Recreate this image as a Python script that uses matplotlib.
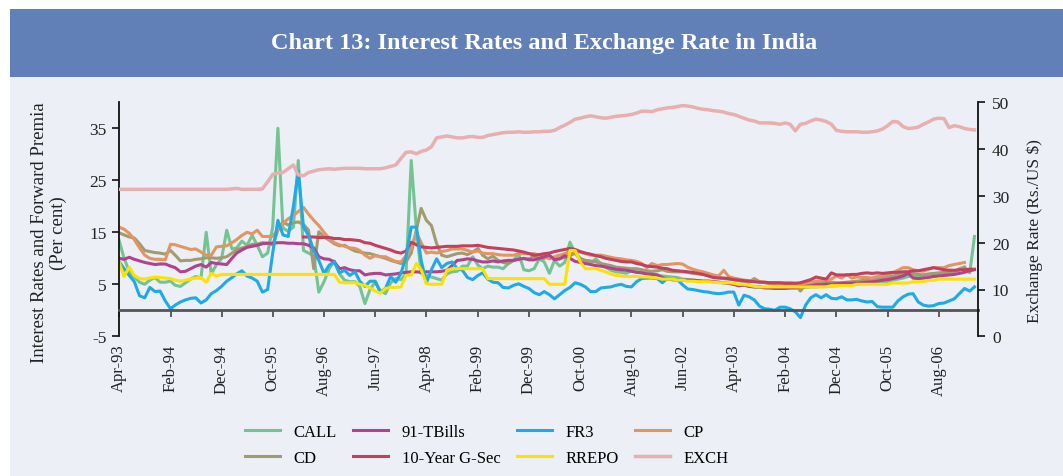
import numpy as np
import pandas as pd
import matplotlib
matplotlib.use("Agg")
import matplotlib.pyplot as plt
import matplotlib.dates as mdates
from matplotlib.patches import Rectangle

nan = np.nan
months = pd.date_range("1993-04-01", periods=168, freq="MS")

call = [13.5, 10.0, 7.5, 6.4, 5.4, 5.0, 5.8, 6.3, 5.4, 5.4, 5.6, 4.8,
        4.6, 5.3, 6.0, 6.5, 6.2, 15.0, 7.0, 8.8, 9.9, 15.4, 11.8, 12.0,
        13.3, 12.5, 14.4, 12.5, 10.3, 11.0, 16.0, 35.0, 15.8, 15.2, 16.0, 28.8,
        11.5, 11.0, 10.5, 3.5, 5.5, 8.0, 9.5, 7.0, 5.8, 5.5, 5.5, 4.6,
        1.3, 4.0, 5.4, 3.8, 3.2, 5.3, 6.1, 5.9, 7.0, 28.8, 15.4, 7.1,
        6.7, 6.4, 6.1, 5.8, 7.0, 7.4, 7.5, 8.5, 8.5, 10.3, 8.7, 8.0,
        8.5, 8.3, 8.3, 8.0, 9.0, 9.6, 10.9, 7.8, 7.6, 8.0, 9.9, 9.3,
        7.1, 9.6, 8.5, 9.2, 13.1, 11.0, 9.6, 9.0, 9.0, 9.9, 9.0, 8.3,
        7.7, 7.4, 7.3, 7.1, 7.6, 7.4, 7.3, 7.2, 7.1, 6.8, 6.6, 6.5,
        6.4, 6.3, 6.0, 5.9, 5.8, 5.7, 5.6, 5.6, 5.5, 5.4, 5.3, 5.2,
        5.0, 4.9, 4.8, 4.6, 4.5, 4.4, 4.4, 4.3, 4.3, 4.4, 4.4, 4.3,
        4.2, 4.3, 4.4, 4.5, 4.5, 4.6, 4.6, 4.7, 4.7, 4.8, 4.9, 5.0,
        5.0, 5.1, 5.2, 5.3, 5.4, 5.5, 5.5, 5.8, 6.0, 6.2, 6.5, 6.6,
        6.6, 6.7, 6.8, 6.8, 6.9, 7.0, 7.1, 7.4, 8.0, 8.3, 7.2, 14.2]

cd = [14.9, 14.5, 14.1, 13.9, 12.8, 11.5, 11.3, 11.1, 11.0, 10.8, 11.5, 10.6,
      9.5, 9.6, 9.6, 9.8, 9.9, 10.1, 10.1, 10.0, 10.1, 10.3, 11.0, 11.6,
      12.0, 12.2, 12.7, 12.7, 13.0, 12.9, 12.6, 15.4, 17.0, 16.4, 16.8, 17.0,
      16.5, 15.4, 8.0, 15.1, 14.1, 13.5, 12.8, 12.4, 12.5, 11.9, 11.4, 11.2,
      11.0, 10.9, 10.6, 10.3, 10.0, 9.6, 9.3, 9.0, 9.3, 11.0, 15.5, 19.6,
      17.3, 16.3, 12.8, 10.6, 10.3, 10.6, 10.9, 11.0, 10.7, 11.2, 11.9, 10.6,
      9.9, 10.4, 9.6, 9.2, 9.0, 9.6, 9.9, 9.9, 9.9, 10.4, 9.9, 10.0,
      10.4, 10.0, 9.9, 10.2, 10.5, 11.0, 10.0, 9.6, 9.5, 9.3, 9.0, 8.8,
      8.6, 8.3, 8.2, 8.1, 8.0, 8.0, 7.8, 7.6, 7.5, 7.6, 7.8, 7.5,
      7.4, 7.4, 7.4, 7.3, 7.1, 7.0, 6.9, 6.7, 6.5, 6.3, 6.1, 6.0,
      5.9, 5.7, 5.5, 5.4, 6.1, 5.5, 5.3, 5.1, 5.0, 5.0, 5.0, 5.0,
      5.0, 3.7, 5.0, 5.2, 5.3, 5.4, 5.4, 5.4, 5.3, 5.3, 5.4, 5.5,
      5.6, 5.7, 5.9, 6.0, 6.1, 6.3, 6.4, 6.6, 6.8, 7.0, 7.1, 7.1,
      6.9, 6.8, 7.0, 7.1, 7.2, 7.3, 7.3, 7.5, 7.7, 8.3, nan, nan]

tbills = [10.0, 9.8, 10.2, 9.8, 9.5, 9.2, 9.0, 8.8, 8.9, 8.9, 8.5, 8.2,
          7.4, 7.5, 8.0, 8.5, 8.8, 8.3, 9.2, 9.0, 8.9, 8.8, 10.0, 11.0,
          11.6, 12.1, 12.3, 12.5, 12.8, 12.9, 12.9, 13.0, 13.0, 12.9, 12.9, 12.8,
          12.8, 12.5, 12.0, 10.3, 9.9, 9.8, 9.3, 8.0, 8.2, 7.8, 7.6, 7.6,
          6.8, 7.0, 7.1, 7.1, 6.8, 6.9, 7.0, 7.2, 7.3, 7.4, 7.4, 7.3,
          7.4, 7.4, 7.4, 7.5, 7.7, 8.6, 9.6, 9.7, 9.9, 9.8, 9.5, 9.3,
          9.3, 9.5, 9.3, 9.5, 9.6, 9.6, 9.8, 10.0, 9.7, 9.7, 10.0, 10.3,
          10.6, 9.7, 9.9, 10.5, 10.0, 9.4, 9.2, 9.0, 8.8, 8.6, 8.5, 8.3,
          8.1, 7.9, 7.8, 7.7, 7.5, 7.3, 7.2, 7.0, 6.9, 6.8, 6.3, 6.0,
          5.9, 5.8, 5.8, 5.8, 5.8, 5.7, 5.6, 5.6, 5.5, 5.4, 5.3, 5.2,
          5.0, 4.7, 4.9, 4.6, 4.5, 4.5, 4.3, 4.3, 4.2, 4.2, 4.2, 4.3,
          4.4, 4.5, 4.6, 4.7, 4.9, 4.9, 5.0, 5.0, 5.1, 5.2, 5.2, 5.2,
          5.2, 5.3, 5.4, 5.5, 5.6, 5.8, 5.9, 6.1, 6.3, 6.6, 7.1, 6.2,
          6.1, 6.2, 6.3, 6.5, 6.6, 6.7, 6.8, 6.9, 7.1, 7.3, 7.6, 7.8]

gsec10 = [nan] * 36 + [
          14.1, 14.1, 14.1, 14.0, 14.0, 14.0, 13.8, 13.8, 13.6, 13.6, 13.5, 13.4,
          13.0, 12.9, 12.5, 12.2, 11.9, 11.6, 11.2, 11.0, 11.4, 13.1, 12.6, 12.2,
          12.1, 12.0, 12.1, 12.2, 12.3, 12.3, 12.3, 12.4, 12.4, 12.4, 12.5, 12.3,
          12.1, 12.0, 11.9, 11.8, 11.7, 11.6, 11.4, 11.2, 10.9, 10.6, 10.7, 10.9,
          11.0, 11.3, 11.5, 11.7, 11.9, 11.7, 11.3, 11.0, 10.8, 10.5, 10.3, 10.0,
          9.8, 9.6, 9.4, 9.3, 9.3, 9.0, 8.8, 8.5, 8.4, 8.3, 8.1, 8.0,
          7.7, 7.6, 7.5, 7.4, 7.3, 7.1, 6.9, 6.6, 6.3, 6.2, 6.2, 6.1,
          5.9, 5.8, 5.7, 5.6, 5.5, 5.4, 5.4, 5.3, 5.3, 5.3, 5.2, 5.2,
          5.2, 5.3, 5.6, 5.9, 6.4, 6.2, 6.0, 7.2, 6.8, 6.8, 6.8, 6.9,
          6.9, 7.1, 7.2, 7.1, 7.2, 7.1, 7.2, 7.3, 7.3, 7.4, 7.4, 7.6,
          7.6, 7.8, 8.0, 8.2, 8.0, 7.8, 7.7, 7.7, 7.8, 7.8, 7.9, 7.9]

fr3 = [9.4, 8.0, 6.7, 5.5, 2.8, 2.4, 4.4, 3.6, 3.7, 1.8, 0.3, 1.0,
       1.6, 2.0, 2.3, 2.4, 1.4, 2.0, 3.2, 3.8, 4.6, 5.6, 6.3, 7.0,
       7.6, 6.6, 6.2, 5.6, 3.5, 4.0, 11.0, 17.3, 14.5, 14.2, 20.0, 26.8,
       16.0, 14.4, 11.5, 9.6, 7.1, 8.7, 9.3, 7.2, 7.7, 6.7, 7.4, 5.6,
       4.6, 5.6, 5.6, 3.5, 4.2, 6.5, 5.4, 7.1, 10.3, 16.0, 16.0, 9.6,
       5.3, 7.8, 9.9, 8.2, 9.0, 9.3, 8.0, 7.7, 6.3, 5.9, 6.7, 7.2,
       6.0, 5.4, 5.3, 4.4, 4.3, 4.8, 5.1, 4.6, 4.2, 3.4, 3.0, 3.6,
       3.0, 2.2, 3.0, 3.8, 4.4, 5.3, 5.0, 4.5, 3.6, 3.6, 4.3, 4.4,
       4.5, 4.8, 5.0, 4.6, 4.5, 5.5, 6.1, 6.2, 6.2, 6.1, 5.3, 6.1,
       5.9, 5.9, 4.9, 4.1, 4.0, 3.8, 3.6, 3.5, 3.3, 3.2, 3.3, 3.5,
       3.5, 1.0, 2.9, 2.6, 2.0, 0.8, 0.3, 0.2, 0.0, 0.6, 0.6, 0.3,
       -0.3, -1.4, 1.0, 2.4, 3.0, 2.4, 3.0, 2.3, 2.2, 2.6, 2.0, 2.0,
       2.1, 1.8, 1.6, 1.7, 0.7, 0.6, 0.6, 0.6, 1.8, 2.6, 3.1, 3.2,
       1.6, 1.0, 0.8, 0.9, 1.3, 1.4, 1.8, 2.2, 3.2, 4.2, 3.7, 4.5]

rrepo = [9.3, 6.5, 8.3, 6.7, 6.1, 6.0, 6.2, 6.4, 6.3, 6.2, 6.1, 5.8,
         5.6, 5.8, 6.0, 6.2, 6.3, 5.4, 7.1, 6.6, 6.9, 6.9, 6.9, 6.9,
         6.9, 6.9, 6.9, 6.9, 6.9, 6.9, 6.9, 6.9, 6.9, 6.9, 6.9, 6.9,
         6.9, 6.9, 6.9, 6.9, 6.9, 6.9, 6.9, 5.4, 5.3, 5.3, 5.3, 5.0,
         4.8, 4.3, 3.7, 3.3, 4.2, 4.4, 4.4, 4.5, 6.7, 6.8, 9.0, 7.8,
         5.1, 5.0, 5.0, 5.0, 7.7, 8.0, 8.0, 8.0, 8.0, 8.0, 8.0, 8.0,
         6.1, 6.1, 6.1, 6.1, 6.1, 6.1, 6.1, 6.1, 6.1, 6.1, 6.1, 6.1,
         5.0, 5.0, 5.0, 5.0, 11.5, 11.5, 9.3, 8.0, 8.0, 8.0, 7.7, 7.4,
         7.0, 6.7, 6.6, 6.5, 6.5, 6.5, 6.4, 6.4, 6.3, 6.2, 6.0, 6.0,
         6.0, 5.8, 5.8, 5.6, 5.6, 5.5, 5.5, 5.5, 5.4, 5.3, 5.3, 5.3,
         5.2, 5.0, 5.0, 4.8, 4.6, 4.5, 4.5, 4.5, 4.5, 4.5, 4.5, 4.5,
         4.5, 4.5, 4.5, 4.5, 4.5, 4.5, 4.5, 4.75, 4.75, 4.75, 4.75, 4.75,
         5.0, 5.0, 5.0, 5.0, 5.0, 5.0, 5.0, 5.25, 5.25, 5.25, 5.25, 5.5,
         5.5, 5.5, 5.75, 5.75, 6.0, 6.0, 6.0, 6.0, 6.0, 6.0, 6.0, 6.0]

cp = [16.0, 15.6, 14.8, 13.6, 12.0, 10.6, 10.0, 9.8, 9.8, 9.7, 12.7, 12.6,
      12.3, 12.0, 11.7, 11.8, 11.2, 10.6, 10.6, 12.2, 12.3, 12.4, 13.0, 13.6,
      14.4, 15.0, 14.7, 15.4, 14.2, 14.2, 14.2, 15.5, 16.7, 17.6, 18.2, 19.0,
      19.8, 18.5, 17.3, 16.3, 15.0, 13.8, 13.0, 12.6, 12.3, 12.0, 11.9, 11.5,
      10.6, 10.0, 10.5, 10.3, 10.3, 9.8, 9.4, 9.3, 10.5, 12.0, 15.0, 13.0,
      11.0, 11.2, 11.0, 11.3, 11.5, 11.8, 11.8, 11.8, 11.5, 11.2, 11.4, 11.0,
      10.9, 10.9, 10.7, 10.6, 10.6, 10.6, 10.9, 10.9, 10.9, 10.9, 10.6, 10.3,
      9.9, 10.3, 10.6, 10.9, 11.1, 11.3, 11.2, 10.9, 10.6, 10.6, 10.6, 10.4,
      10.2, 10.0, 9.9, 9.7, 9.6, 9.4, 9.0, 8.2, 9.0, 8.6, 8.8, 8.8,
      8.9, 9.0, 8.9, 8.3, 7.9, 7.6, 7.4, 7.1, 6.8, 6.6, 7.7, 6.5,
      6.2, 6.0, 5.8, 5.7, 5.6, 5.5, 5.4, 5.3, 5.3, 5.2, 5.3, 5.3,
      5.2, 4.9, 5.2, 5.4, 5.6, 5.7, 5.9, 6.0, 6.6, 6.2, 6.9, 6.2,
      6.4, 6.3, 6.3, 6.2, 6.5, 6.6, 6.9, 7.2, 7.7, 8.2, 8.2, 7.8,
      7.6, 7.5, 7.9, 8.2, 8.2, 8.2, 8.6, 8.8, 9.0, 9.2, nan, nan]

exch = [31.4, 31.4, 31.4, 31.4, 31.4, 31.4, 31.4, 31.4, 31.4, 31.4, 31.4, 31.4,
        31.4, 31.4, 31.4, 31.4, 31.4, 31.4, 31.4, 31.4, 31.4, 31.4, 31.5, 31.6,
        31.4, 31.4, 31.4, 31.4, 31.5, 33.0, 34.6, 34.9, 35.0, 35.8, 36.6, 34.5,
        34.3, 35.0, 35.3, 35.6, 35.7, 35.8, 35.7, 35.8, 35.9, 35.9, 35.9, 35.9,
        35.8, 35.8, 35.8, 35.8, 36.0, 36.3, 36.6, 38.0, 39.3, 39.4, 39.0, 39.5,
        39.8, 40.5, 42.4, 42.6, 42.8, 42.6, 42.4, 42.4, 42.6, 42.7, 42.5, 42.5,
        42.9, 43.1, 43.3, 43.5, 43.6, 43.6, 43.7, 43.6, 43.6, 43.7, 43.7, 43.8,
        43.8, 44.0, 44.6, 45.1, 45.7, 46.4, 46.6, 46.9, 47.1, 46.9, 46.7, 46.6,
        46.8, 47.0, 47.1, 47.2, 47.4, 47.7, 48.1, 48.1, 48.0, 48.4, 48.6, 48.8,
        48.9, 49.1, 49.3, 49.2, 49.0, 48.7, 48.5, 48.4, 48.2, 48.1, 47.9, 47.6,
        47.4, 47.0, 46.6, 46.2, 46.0, 45.6, 45.6, 45.6, 45.5, 45.3, 45.6, 45.3,
        43.9, 45.3, 45.5, 46.0, 46.4, 46.2, 45.9, 45.3, 44.0, 43.8, 43.7, 43.7,
        43.7, 43.6, 43.6, 43.7, 43.9, 44.3, 45.0, 45.9, 45.8, 44.8, 44.4, 44.5,
        44.7, 45.3, 45.8, 46.4, 46.6, 46.5, 44.6, 45.0, 44.8, 44.4, 44.2, 44.1]

left_ticks = [-5, 5, 15, 25, 35]
right_ticks = [0, 10, 20, 30, 40, 50]

FONT = "Liberation Serif"
plt.rcParams["font.family"] = [FONT, "DejaVu Serif"]
plt.rcParams["axes.unicode_minus"] = False

BG = "#ECEFF5"
fig = plt.figure(figsize=(10.63, 4.77), dpi=100, facecolor="white")
W, H = 1063, 477
fig.patches.append(Rectangle((10 / W, 0), 1 - 10 / W, 1 - 78 / H, transform=fig.transFigure,
                             facecolor=BG, edgecolor="none", zorder=-10))
fig.patches.append(Rectangle((10 / W, 1 - 78 / H), 1 - 10 / W, 68 / H, transform=fig.transFigure,
                             facecolor="#6280B8", edgecolor="none", zorder=-10))
fig.text(544 / W, 1 - 44 / H, "Chart 13: Interest Rates and Exchange Rate in India",
         color="white", fontsize=17.5, fontweight="bold", ha="center", va="center")

ax = fig.add_axes([119 / W, 1 - 337.3 / H, (978 - 119) / W, (337.3 - 103.3) / H])
ax.set_facecolor("none")
ax2 = ax.twinx()

lw = 2.2
series = [
    ("CALL", call, "#74C493"),
    ("CD", cd, "#A19B70"),
    ("CP", cp, "#E29563"),
    ("91-TBills", tbills, "#B0428E"),
    ("10-Year G-Sec", gsec10, "#C2405C"),
    ("FR3", fr3, "#1EAAE6"),
    ("RREPO", rrepo, "#FFE100"),
]
handles = {}
for name, vals, col in series:
    h, = ax.plot(months, vals, color=col, lw=lw, solid_joinstyle="round")
    handles[name] = h
h, = ax2.plot(months, exch, color="#E8AFAF", lw=lw + 0.3)
handles["EXCH"] = h

ax.set_ylim(-5, 40)
ax2.set_ylim(0, 50)
ax.set_xlim(months[0], months[-1] + pd.Timedelta(days=21))

ax.set_yticks(left_ticks)
ax2.set_yticks(right_ticks)
ax.set_xticks(months[::10])
ax.xaxis.set_major_formatter(mdates.DateFormatter("%b-%y"))

for s in ["top", "right"]:
    ax.spines[s].set_visible(False)
for s in ["top", "bottom", "left"]:
    ax2.spines[s].set_visible(False)
ax.spines["left"].set_color("#111111")
ax.spines["left"].set_linewidth(1.3)
ax2.spines["right"].set_color("#111111")
ax2.spines["right"].set_linewidth(1.3)
ax.spines["bottom"].set_position(("data", 0))
ax.spines["bottom"].set_color("#555555")
ax.spines["bottom"].set_linewidth(2.0)

ax.tick_params(axis="y", direction="out", length=5, width=1.2, color="#111111",
               labelsize=12.5, labelcolor="#222222", pad=4)
ax2.tick_params(axis="y", direction="out", length=5, width=1.2, color="#111111",
                labelsize=12.5, labelcolor="#222222", pad=5)
ax.tick_params(axis="x", direction="out", length=5, width=1.2, color="#444444",
               labelsize=12, labelcolor="#222222", pad=19, labelrotation=90)

fig.text(49 / W, 1 - 233 / H, "Interest Rates and Forward Premia\n(Per cent)",
         rotation=90, ha="center", va="center", multialignment="center",
         fontsize=13.5, color="#222222", linespacing=1.2)
fig.text(1035 / W, 1 - 231 / H, "Exchange Rate (Rs./US $)", rotation=90,
         ha="center", va="center", fontsize=12.5, color="#222222")

order = ["CALL", "CD", "91-TBills", "10-Year G-Sec", "FR3", "RREPO", "CP", "EXCH"]
fig.legend([handles[k] for k in order], order, ncol=4, frameon=False,
           loc="upper left", bbox_to_anchor=(245 / W, 1 - 425 / H),
           borderpad=0, borderaxespad=0, fontsize=12, handlelength=2.1,
           handletextpad=0.8, columnspacing=1.0, labelspacing=0.6)

fig.savefig("out.png", dpi=100, facecolor=fig.get_facecolor())
